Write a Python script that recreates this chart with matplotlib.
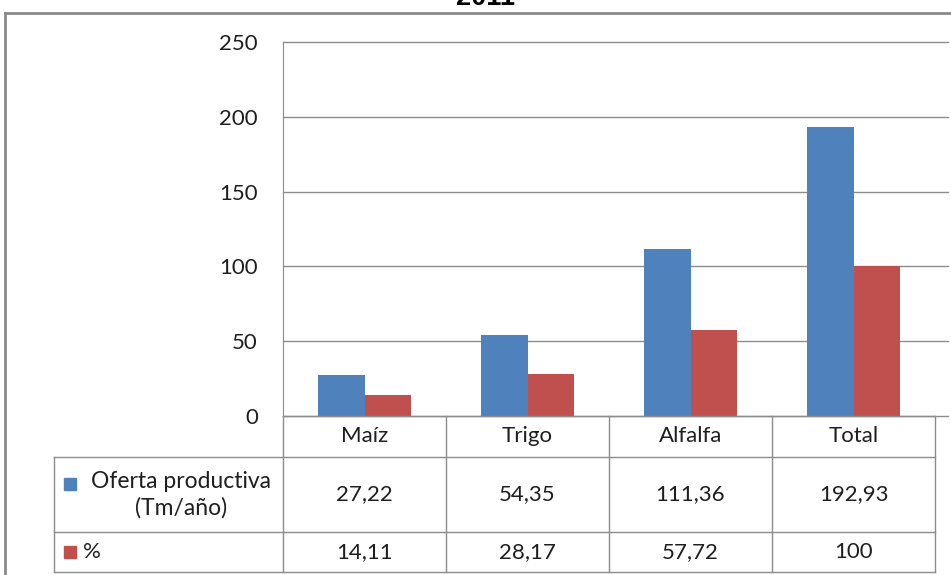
import matplotlib.pyplot as plt
from matplotlib.lines import Line2D

# datos
categorias = ["Maíz", "Trigo", "Alfalfa", "Total"]
oferta = [27.22, 54.35, 111.36, 192.93]
porcentaje = [14.11, 28.17, 57.72, 100]
oferta_txt = ["27,22", "54,35", "111,36", "192,93"]
porcentaje_txt = ["14,11", "28,17", "57,72", "100"]
serie_oferta = "Oferta productiva\n(Tm/año)"
serie_pct = "%"
titulo = "2011"

azul, rojo = "#4F81BD", "#C0504D"
gris = "#8C8C8C"
texto = "#1e1e1e"
fs = 16
W, H = 951, 575

plt.rcParams['font.family'] = ['Lato', 'DejaVu Sans']

fig = plt.figure(figsize=(W / 100, H / 100), dpi=100)


def caja(x0, y_top, x1, y_bot):
    return [x0 / W, 1 - y_bot / H, (x1 - x0) / W, (y_bot - y_top) / H]


# area del grafico
ax = fig.add_axes(caja(283, 42, 948, 416))
n = len(categorias)
xs = list(range(n))
w = 0.288
ax.bar([x - w / 2 for x in xs], oferta, width=w, color=azul, zorder=3)
ax.bar([x + w / 2 for x in xs], porcentaje, width=w, color=rojo, zorder=3)
ax.set_xlim(-0.5, n - 0.5 + 13 / 163)
ax.set_ylim(0, 250)
ax.set_yticks(range(0, 251, 50))
ax.tick_params(axis='y', length=0, pad=18, labelsize=fs, labelcolor=texto)
ax.set_xticks([])
ax.grid(axis='y', color=gris, lw=1, zorder=0)
for g in ax.get_ygridlines():
    g.set_clip_on(False)
for s in ['top', 'right', 'bottom']:
    ax.spines[s].set_visible(False)
ax.spines['left'].set_color(gris)

# tabla de datos
tax = fig.add_axes(caja(283, 416, 948, 572), sharex=ax)
tax.set_ylim(156, 0)
tax.axis('off')
izq = -0.5 - (283 - 54) / 163
der = n - 0.5
filas = [0, 41, 116, 156]
kw = dict(color=gris, lw=1, clip_on=False)
tax.plot([-0.5, der], [0, 0], **kw)
for y in filas[1:]:
    tax.plot([izq, der], [y, y], **kw)
for i in range(n + 1):
    tax.plot([i - 0.5, i - 0.5], [0, 156], **kw)
tax.plot([izq, izq], [41, 156], **kw)

for i, c in enumerate(categorias):
    tax.text(i, 20.5, c, ha='center', va='center', fontsize=fs, color=texto)
    tax.text(i, 78.5, oferta_txt[i], ha='center', va='center', fontsize=fs, color=texto)
    tax.text(i, 136, porcentaje_txt[i], ha='center', va='center', fontsize=fs, color=texto)

cx_lbl = izq + (181 - 54) / 163
tax.text(cx_lbl, 78.5, serie_oferta, ha='center', va='center', fontsize=fs + 0.5,
         color=texto, linespacing=1.3, clip_on=False)
tax.text(izq + (83 - 54) / 163, 136, serie_pct, ha='left', va='center', fontsize=fs,
         color=texto, clip_on=False)
sq = 12 / 163
tax.add_patch(plt.Rectangle((izq + 10 / 163, 62), sq, 12, color=azul, clip_on=False))
tax.add_patch(plt.Rectangle((izq + 10 / 163, 130), sq, 12, color=rojo, clip_on=False))

# marco exterior y titulo
fig.add_artist(Line2D([5 / W, 5 / W], [0, 1 - 13 / H], color='#8a8a8a', lw=2))
fig.add_artist(Line2D([5 / W, 1], [1 - 13 / H, 1 - 13 / H], color='#8a8a8a', lw=2))
fig.text(485 / W, 1 - 5 / H, titulo, ha='center', va='baseline', fontsize=19.5,
         fontweight='bold', family='Liberation Sans')

fig.savefig("out.png", dpi=100)
